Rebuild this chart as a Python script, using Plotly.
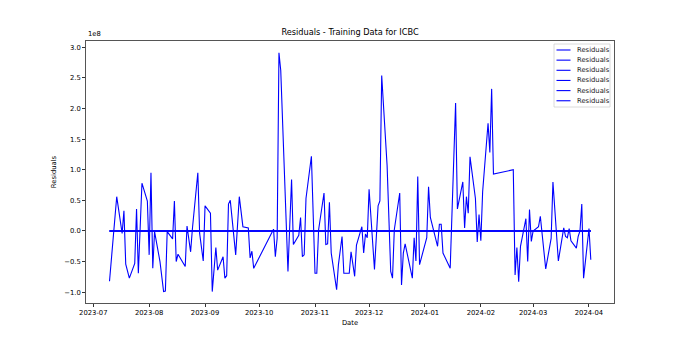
import numpy as np
import plotly.graph_objects as go

# Vertex dates of the residual series (trading days)
dates = [
    "2023-07-10", "2023-07-14", "2023-07-17", "2023-07-18", "2023-07-19", "2023-07-21",
    "2023-07-24", "2023-07-25", "2023-07-26", "2023-07-28", "2023-07-31", "2023-08-01",
    "2023-08-02", "2023-08-03", "2023-08-04", "2023-08-07", "2023-08-09", "2023-08-10",
    "2023-08-11", "2023-08-14", "2023-08-15", "2023-08-16", "2023-08-17", "2023-08-21",
    "2023-08-22", "2023-08-24", "2023-08-25", "2023-08-28", "2023-08-29", "2023-08-31",
    "2023-09-01", "2023-09-04", "2023-09-05", "2023-09-07", "2023-09-08", "2023-09-11",
    "2023-09-12", "2023-09-13", "2023-09-14", "2023-09-15", "2023-09-18", "2023-09-20",
    "2023-09-22", "2023-09-25", "2023-09-26", "2023-09-27", "2023-09-28", "2023-10-09",
    "2023-10-10", "2023-10-11", "2023-10-12", "2023-10-13", "2023-10-17", "2023-10-19",
    "2023-10-20", "2023-10-23", "2023-10-24", "2023-10-25", "2023-10-26", "2023-10-27",
    "2023-10-30", "2023-11-01", "2023-11-02", "2023-11-03", "2023-11-06", "2023-11-07",
    "2023-11-08", "2023-11-09", "2023-11-10", "2023-11-13", "2023-11-14", "2023-11-16",
    "2023-11-17", "2023-11-20", "2023-11-21", "2023-11-23", "2023-11-24", "2023-11-27",
    "2023-11-28", "2023-11-29", "2023-11-30", "2023-12-01", "2023-12-04", "2023-12-06",
    "2023-12-07", "2023-12-08", "2023-12-11", "2023-12-13", "2023-12-14", "2023-12-15",
    "2023-12-18", "2023-12-19", "2023-12-20", "2023-12-21", "2023-12-25", "2023-12-26",
    "2023-12-27", "2023-12-28", "2023-12-29", "2024-01-02", "2024-01-03", "2024-01-04",
    "2024-01-08", "2024-01-09", "2024-01-10", "2024-01-11", "2024-01-15", "2024-01-18",
    "2024-01-19", "2024-01-22", "2024-01-23", "2024-01-24", "2024-01-25", "2024-01-26",
    "2024-01-29", "2024-01-30", "2024-01-31", "2024-02-01", "2024-02-02", "2024-02-05",
    "2024-02-06", "2024-02-07", "2024-02-08", "2024-02-19", "2024-02-20", "2024-02-21",
    "2024-02-22", "2024-02-23", "2024-02-26", "2024-02-27", "2024-02-28", "2024-02-29",
    "2024-03-01", "2024-03-04", "2024-03-05", "2024-03-08", "2024-03-11", "2024-03-12",
    "2024-03-15", "2024-03-18", "2024-03-19", "2024-03-20", "2024-03-21", "2024-03-22",
    "2024-03-25", "2024-03-26", "2024-03-27", "2024-03-28", "2024-03-29", "2024-04-01",
    "2024-04-02",
]

# Volume residuals in units of 1e8
volume_resid_1e8 = [
    -0.82, 0.56, -0.04, 0.33, -0.54, -0.77,
    -0.53, 0.36, -0.69, 0.78, 0.49, -0.39,
    0.95, -0.61, -0.01, -0.50, -0.99, -0.98,
    -0.01, -0.13, 0.49, -0.50, -0.38, -0.58,
    0.08, -0.34, 0.04, 0.95, -0.04, -0.49,
    0.41, 0.29, -0.99, -0.27, -0.64, -0.42,
    -0.77, -0.73, 0.44, 0.50, -0.39, 0.56,
    0.07, 0.05, -0.44, -0.33, -0.61, 0.03,
    -0.42, -0.12, 2.91, 2.62, -0.66, 0.84,
    -0.22, -0.07, 0.22, -0.42, -0.39, 0.53,
    1.22, -0.69, -0.69, 0.02, 0.62, -0.22,
    -0.21, 0.47, -0.36, -0.96, -0.55, -0.09,
    -0.69, -0.69, -0.34, -0.74, -0.23, 0.07,
    -0.36, -0.05, -0.11, 0.68, -0.63, 0.41,
    0.49, 2.54, 1.07, -0.66, -0.77, 0.02,
    0.62, -0.88, -0.36, -0.21, -0.77, -0.11,
    -0.49, 0.89, -0.55, -0.11, 0.72, 0.22,
    -0.25, 0.11, 0.11, -0.36, -0.61, 2.09,
    0.36, 0.80, 0.05, 0.56, 0.29, 1.21,
    0.53, -0.18, 0.27, -0.16, 0.64, 1.76,
    1.28, 2.32, 0.93, 1.00, -0.72, -0.27,
    -0.83, -0.25, 0.20, -0.50, 0.35, -0.17,
    0.00, 0.07, 0.24, -0.62, -0.12, 0.80,
    -0.49, 0.05, -0.09, -0.11, 0.04, -0.16,
    -0.28, -0.09, 0.00, 0.44, -0.77, 0.04,
    -0.47,
]

# Price-column residuals: negligible on the 1e8 scale
price_resid_1e8 = [0.0] * len(dates)

series_names = ["Residuals"] * 6

x_tick_vals = ["2023-07-01", "2023-08-01", "2023-09-01", "2023-10-01", "2023-11-01",
               "2023-12-01", "2024-01-01", "2024-02-01", "2024-03-01", "2024-04-01"]
x_tick_text = ["2023-07", "2023-08", "2023-09", "2023-10", "2023-11",
               "2023-12", "2024-01", "2024-02", "2024-03", "2024-04"]
y_tick_vals_1e8 = [-1.0, -0.5, 0.0, 0.5, 1.0, 1.5, 2.0, 2.5, 3.0]
y_tick_text = ["\u22121.0", "\u22120.5", "0.0", "0.5", "1.0", "1.5", "2.0", "2.5", "3.0"]

scale = 1e8
FONT = "DejaVu Sans"
LINE_COLOR = "#0000ff"

W, H = 682, 341
ML, MR, MT, MB = 86, 68, 41, 38
PW, PH = W - ML - MR, H - MT - MB


def px_x(px):
    return (px - ML) / PW


def px_y(py):
    return (H - MB - py) / PH


fig = go.Figure()
order = [volume_resid_1e8, price_resid_1e8, price_resid_1e8,
         price_resid_1e8, price_resid_1e8, price_resid_1e8]
for name, vals in zip(series_names, order):
    fig.add_trace(go.Scatter(
        x=dates, y=np.array(vals) * scale, mode="lines", name=name,
        line=dict(color=LINE_COLOR, width=1.1), showlegend=False,
    ))

# matplotlib-style legend box (drawn as layout decorations)
fig.add_shape(type="rect", xref="paper", yref="paper",
              x0=px_x(554), x1=px_x(610), y0=px_y(107), y1=px_y(44),
              line=dict(color="#d0d0d0", width=0.8), fillcolor="rgba(255,255,255,0.8)",
              layer="above")
for i, name in enumerate(series_names):
    yy = 50 + i * 10.15
    fig.add_shape(type="line", xref="paper", yref="paper",
                  x0=px_x(556.5), x1=px_x(570.5), y0=px_y(yy), y1=px_y(yy),
                  line=dict(color=LINE_COLOR, width=1.1), layer="above")
    fig.add_annotation(text=name, xref="paper", yref="paper",
                       x=px_x(575), y=px_y(yy), xanchor="left", yanchor="middle",
                       showarrow=False, font=dict(size=6.8, family=FONT, color="#222"))

fig.update_layout(
    width=W, height=H,
    margin=dict(l=ML, r=MR, t=MT, b=MB),
    paper_bgcolor="white", plot_bgcolor="white",
    font=dict(family=FONT, size=7, color="black"),
    title=dict(text="Residuals - Training Data for ICBC", x=0.5, xref="paper",
               xanchor="center", y=1 - 35 / 341, yanchor="bottom", yref="container",
               font=dict(size=8.2, family=FONT, color="black")),
    showlegend=False,
)
fig.update_xaxes(
    type="date",
    range=["2023-06-26 23:00", "2024-04-14 21:00"],
    tickvals=x_tick_vals, ticktext=x_tick_text,
    ticks="outside", ticklen=3, tickwidth=0.8, tickcolor="#333",
    showline=True, linecolor="#555", linewidth=0.8, mirror=True,
    showgrid=False, zeroline=False,
    tickfont=dict(size=6.8, family=FONT, color="black"),
    title=dict(text="Date", font=dict(size=6.8, family=FONT, color="black"), standoff=4),
)
fig.update_yaxes(
    range=[-1.176 * scale, 3.102 * scale],
    tickvals=[v * scale for v in y_tick_vals_1e8], ticktext=y_tick_text,
    ticks="outside", ticklen=3, tickwidth=0.8, tickcolor="#333",
    showline=True, linecolor="#555", linewidth=0.8, mirror=True,
    showgrid=False, zeroline=False,
    tickfont=dict(size=6.8, family=FONT, color="black"),
    title=dict(text="Residuals", font=dict(size=6.8, family=FONT, color="black"), standoff=6),
)
fig.add_annotation(text="1e8", xref="paper", yref="paper", x=0, y=1.005,
                   xanchor="left", yanchor="bottom", showarrow=False,
                   font=dict(size=6.8, family=FONT, color="black"))

fig.write_html("out.html")
